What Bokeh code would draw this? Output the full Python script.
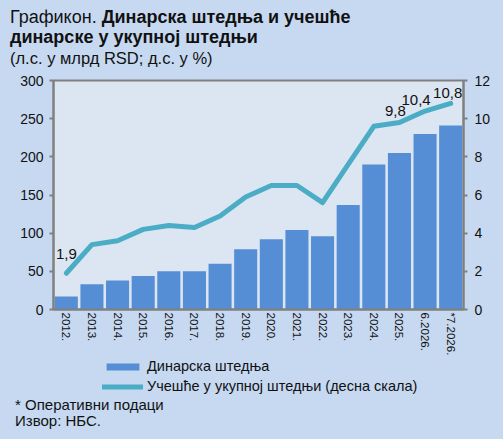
from bokeh.plotting import figure
from bokeh.layouts import column
from bokeh.models import (Range1d, LinearAxis, FactorRange, ColumnDataSource,
                          FixedTicker, Legend, LegendItem, Div)
from bokeh.embed import file_html
from bokeh.resources import INLINE
from bokeh.core.properties import value

# ---- data ----
categories = ["2012.", "2013.", "2014.", "2015.", "2016.", "2017.", "2018.", "2019.",
              "2020.", "2021.", "2022.", "2023.", "2024.", "2025.", "6.2026.", "*7.2026."]
dinar_savings = [17, 33, 38, 44, 50, 50, 60, 79, 92, 104, 96, 137, 190, 205, 230, 241]
share_total = [1.9, 3.4, 3.6, 4.2, 4.4, 4.3, 4.9, 5.9, 6.5, 6.5, 5.6, 7.6, 9.6, 9.8, 10.4, 10.8]
labelled = ["2012.", "2025.", "6.2026.", "*7.2026."]
left_ticks = [0, 50, 100, 150, 200, 250, 300]
right_ticks = [0, 2, 4, 6, 8, 10, 12]
title_regular = "Графикон."
title_bold_1 = "Динарска штедња и учешће"
title_bold_2 = "динарске у укупној штедњи"
subtitle = "(л.с. у млрд RSD; д.с. у %)"
legend_bar = "Динарска штедња"
legend_line = "Учешће у укупној штедњи (десна скала)"
note = "* Оперативни подаци"
source_note = "Извор: НБС."

# label placement (styling)
label_dx = [0, -4, -9, -3]
label_dy = [-19, -11, -11, -10]

FONT = "Liberation Sans"
BAR = "#558ED5"
LINE = "#4BACC6"
OUTER = "#C6D9F1"
INNER = "#DCE6F2"
AXIS = "#808080"
TXT = "#111111"
W = 503
HEAD_H = 72
SPLIT = 358
LEG_H = 36
TOTAL_H = 439

# ---- header (HTML text) ----
head = Div(text=(
    f'<div style="font-family:\'{FONT}\';color:{TXT};white-space:nowrap;padding:7px 0 0 10px;margin:0;">'
    f'<div style="font-size:18px;line-height:20px;">{title_regular} <b>{title_bold_1}</b></div>'
    f'<div style="font-size:18px;line-height:20px;font-weight:bold;">{title_bold_2}</div>'
    f'<div style="font-size:16.5px;line-height:22px;">{subtitle}</div>'
    '</div>'), width=W, height=HEAD_H, margin=0)

# ---- main chart ----
src = ColumnDataSource(dict(cat=categories, sav=dinar_savings, share=share_total))
lab_share = [share_total[categories.index(c)] for c in labelled]
lab_src = ColumnDataSource(dict(
    cat=labelled, y=lab_share,
    txt=[("%.1f" % v).replace(".", ",") for v in lab_share],
    dx=label_dx, dy=label_dy))

p = figure(width=W, height=SPLIT - HEAD_H, x_range=FactorRange(factors=categories),
           y_range=Range1d(0, 300), output_backend="svg", toolbar_location=None,
           min_border_left=53, min_border_right=40, min_border_top=80 - HEAD_H,
           min_border_bottom=SPLIT - 312, margin=0)
p.extra_y_ranges = {"pct": Range1d(0, 12)}
p.background_fill_color = INNER
p.border_fill_color = OUTER
p.outline_line_color = AXIS
p.outline_line_width = 2
p.xgrid.visible = False
p.ygrid.visible = False


def style_axis(ax, size="14px"):
    ax.axis_line_color = AXIS
    ax.axis_line_width = 2
    ax.major_tick_line_color = AXIS
    ax.major_tick_line_width = 2
    ax.major_tick_in = 0
    ax.major_tick_out = 4
    ax.minor_tick_line_color = None
    ax.minor_tick_out = 0
    ax.major_label_text_font = FONT
    ax.major_label_text_font_size = size
    ax.major_label_text_color = TXT


ly = p.yaxis[0]
ly.ticker = FixedTicker(ticks=left_ticks)
style_axis(ly)
ly.major_label_standoff = 6

ry = LinearAxis(y_range_name="pct", ticker=FixedTicker(ticks=right_ticks))
style_axis(ry)
ry.major_label_standoff = 7
p.add_layout(ry, "right")

xa = p.xaxis[0]
style_axis(xa, "11.5px")
xa.major_tick_line_color = None
xa.major_tick_out = 0
xa.major_label_orientation = "vertical"
xa.major_label_standoff = 3

bars = p.vbar(x="cat", top="sav", width=0.9, source=src, fill_color=BAR, line_color=None)
ln = p.line(x="cat", y="share", source=src, y_range_name="pct", line_color=LINE,
            line_width=5, line_join="round", line_cap="round")

p.text(x="cat", y="y", text="txt", source=lab_src, y_range_name="pct",
       x_offset="dx", y_offset="dy", text_align="center", text_baseline="alphabetic",
       text_font=value(FONT), text_font_size="15px", text_color=TXT)

# ---- legend strip ----
leg = figure(width=W, height=LEG_H, x_range=Range1d(0, 1), y_range=Range1d(0, 1),
             output_backend="svg", toolbar_location=None, x_axis_type=None, y_axis_type=None,
             min_border_left=53, min_border_right=40, min_border_top=0, min_border_bottom=0,
             margin=0)
leg.outline_line_color = None
leg.background_fill_color = OUTER
leg.border_fill_color = OUTER
leg.xgrid.visible = False
leg.ygrid.visible = False
proxy = ColumnDataSource(dict(x=[0], top=[0], y=[0]))
pb = leg.vbar(x="x", top="top", width=0, source=proxy, fill_color=BAR, line_color=None)
pl = leg.line(x="x", y="y", source=proxy, line_color=LINE, line_width=5,
              line_join="round", line_cap="round")
legend = Legend(items=[LegendItem(label=legend_bar, renderers=[pb]),
                       LegendItem(label=legend_line, renderers=[pl])],
                location=(102 - 53, 0), orientation="vertical",
                glyph_width=41, glyph_height=9, label_height=16, spacing=4,
                label_standoff=4, padding=0, margin=0,
                border_line_color=None, background_fill_alpha=0,
                label_text_font=FONT, label_text_font_size="14.5px", label_text_color=TXT)
leg.add_layout(legend, "center")

# ---- notes (HTML text) ----
notes = Div(text=(
    f'<div style="font-family:\'{FONT}\';font-size:15px;line-height:16px;color:{TXT};'
    f'white-space:nowrap;padding:3px 0 0 15px;margin:0;">'
    f'<div>{note}</div><div>{source_note}</div></div>'),
    width=W, height=TOTAL_H - SPLIT - LEG_H, margin=0)

layout = column(head, p, leg, notes, spacing=0, margin=0)

html = None
try:
    from jinja2 import Template
    tmpl = Template("{% extends base %}{% block preamble %}<style>html, body { background: "
                    + OUTER + "; }</style>{% endblock %}")
    html = file_html(layout, INLINE, template=tmpl)
except Exception:
    html = None
if html is None:
    html = file_html(layout, INLINE)
open("out.html", "w").write(html)
